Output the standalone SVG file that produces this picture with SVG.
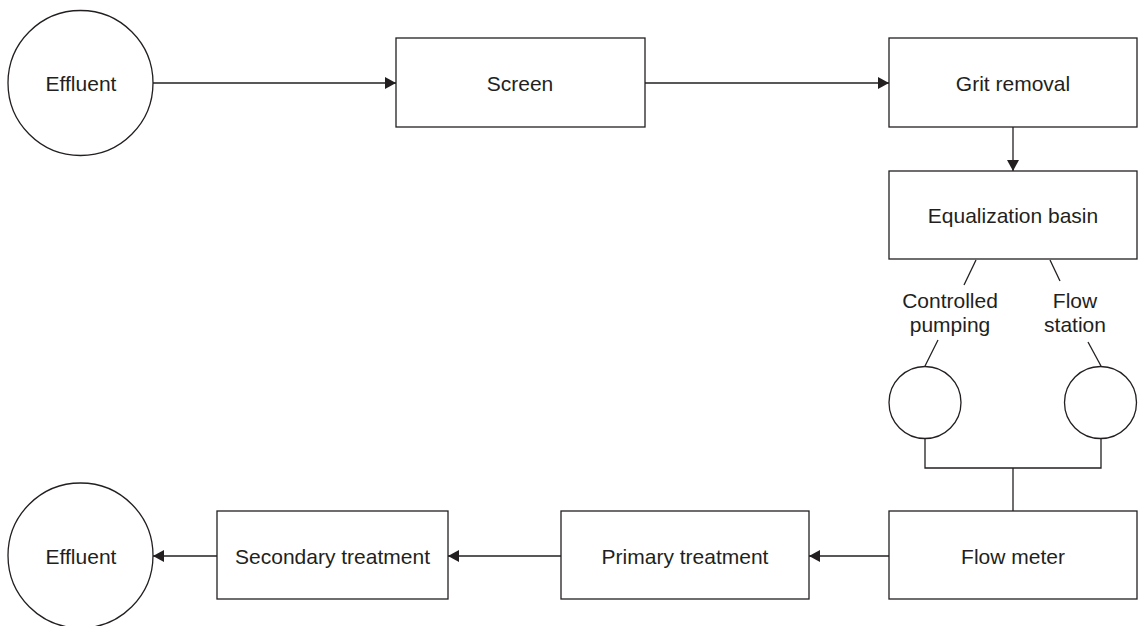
<svg xmlns="http://www.w3.org/2000/svg" width="1138" height="626" viewBox="0 0 1138 626">
<style>
.n{fill:#fff;stroke:#231f20;stroke-width:1.3}
.c{fill:none;stroke:#231f20;stroke-width:1.3}
.t{font-family:"Liberation Sans",Arial,sans-serif;font-size:21px;fill:#231f20;text-anchor:middle}
</style>
<defs>
<marker id="ah" viewBox="0 0 11 12" refX="11" refY="6" markerWidth="11" markerHeight="12" markerUnits="userSpaceOnUse" orient="auto">
<path d="M0,0 L11,6 L0,12 Z" fill="#231f20"/>
</marker>
</defs>
<rect width="1138" height="626" fill="#fff"/>
<g id="connectors">
<line class="c" x1="153" y1="83" x2="396" y2="83" marker-end="url(#ah)"/>
<line class="c" x1="645" y1="83" x2="889" y2="83" marker-end="url(#ah)"/>
<line class="c" x1="1013" y1="127" x2="1013" y2="171" marker-end="url(#ah)"/>
<line class="c" x1="976" y1="260" x2="964" y2="285"/>
<line class="c" x1="1050" y1="260" x2="1060" y2="281"/>
<line class="c" x1="938" y1="340" x2="925" y2="366"/>
<line class="c" x1="1088" y1="342" x2="1101" y2="366"/>
<polyline class="c" points="925,438 925,468 1101,468 1101,438"/>
<line class="c" x1="1013" y1="468" x2="1013" y2="511"/>
<line class="c" x1="889" y1="556" x2="809" y2="556" marker-end="url(#ah)"/>
<line class="c" x1="561" y1="556" x2="448" y2="556" marker-end="url(#ah)"/>
<line class="c" x1="217" y1="556" x2="153" y2="556" marker-end="url(#ah)"/>
</g>
<g id="effluent-in">
<circle class="n" cx="80.5" cy="83" r="72.5"/>
<text class="t" x="81" y="90.5">Effluent</text>
</g>
<g id="screen">
<rect class="n" x="396" y="38" width="249" height="89"/>
<text class="t" x="520" y="90.5">Screen</text>
</g>
<g id="grit-removal">
<rect class="n" x="889" y="38" width="248" height="89"/>
<text class="t" x="1013" y="90.5">Grit removal</text>
</g>
<g id="equalization-basin">
<rect class="n" x="889" y="171" width="248" height="88"/>
<text class="t" x="1013" y="223">Equalization basin</text>
</g>
<g id="controlled-pumping">
<text class="t" x="950" y="308">Controlled</text>
<text class="t" x="950" y="332">pumping</text>
<circle class="n" cx="925" cy="402.5" r="36"/>
</g>
<g id="flow-station">
<text class="t" x="1075" y="308">Flow</text>
<text class="t" x="1075" y="332">station</text>
<circle class="n" cx="1100.5" cy="402.5" r="36"/>
</g>
<g id="flow-meter">
<rect class="n" x="889" y="511" width="248" height="88"/>
<text class="t" x="1013" y="563.5">Flow meter</text>
</g>
<g id="primary-treatment">
<rect class="n" x="561" y="511" width="248" height="88"/>
<text class="t" x="685" y="563.5">Primary treatment</text>
</g>
<g id="secondary-treatment">
<rect class="n" x="217" y="511" width="231" height="88"/>
<text class="t" x="332.5" y="563.5">Secondary treatment</text>
</g>
<g id="effluent-out">
<circle class="n" cx="80.5" cy="555.5" r="72.5"/>
<text class="t" x="81" y="563.5">Effluent</text>
</g>
</svg>
